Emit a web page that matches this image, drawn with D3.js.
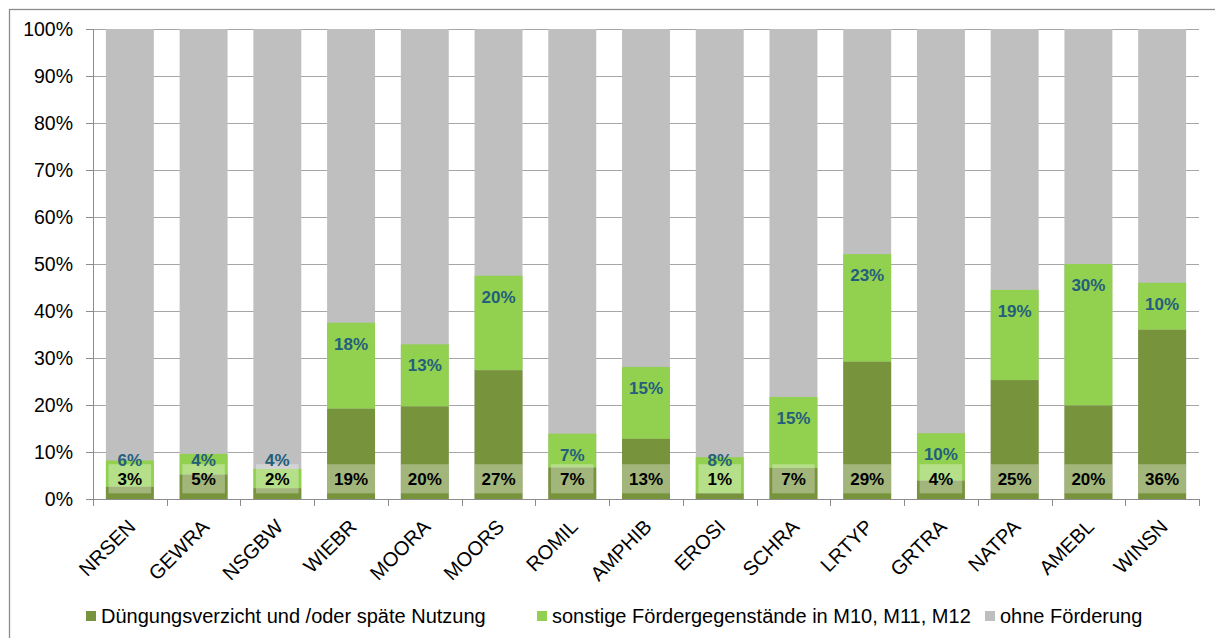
<!DOCTYPE html>
<meta charset="utf-8">
<style>
body { margin: 0; background: #fff; }
text { font-family: "Liberation Sans", Arial, sans-serif; }
</style>
<body>
<div id="chart"></div>
<script src="https://d3js.org/d3.v7.min.js"></script>
<script>
// categories and values (percent)
var categories = ["NRSEN", "GEWRA", "NSGBW", "WIEBR", "MOORA", "MOORS", "ROMIL", "AMPHIB",
                  "EROSI", "SCHRA", "LRTYP", "GRTRA", "NATPA", "AMEBL", "WINSN"];
var duengung = [2.6, 5.2, 2.3, 19.2, 19.7, 27.4, 6.7, 12.8, 1.2, 6.6, 29.2, 3.9, 25.3, 19.9, 36.0];
var sonstige = [5.6, 4.4, 4.1, 18.3, 13.2, 20.1, 7.2, 15.3, 7.7, 15.1, 22.9, 10.1, 19.2, 30.1, 10.0];
var yTicks = [0, 10, 20, 30, 40, 50, 60, 70, 80, 90, 100];
var seriesNames = ["Düngungsverzicht und /oder späte Nutzung",
                   "sonstige Fördergegenstände in M10, M11, M12",
                   "ohne Förderung"];
var colors = ["#77933c", "#92d050", "#bfbfbf"];

var W = 1215, H = 638;
var margin = {top: 29, right: 16, bottom: 139, left: 93};
var width = W - margin.left - margin.right,
    height = H - margin.top - margin.bottom;

var svg = d3.select("#chart").append("svg")
    .attr("width", W).attr("height", H);

// outer frame
svg.append("rect")
    .attr("x", 9.5).attr("y", 9.5)
    .attr("width", W + 20).attr("height", H + 20)
    .attr("fill", "none").attr("stroke", "#8c8c8c").attr("stroke-width", 1.3);

var g = svg.append("g")
    .attr("transform", "translate(" + margin.left + "," + margin.top + ")");

var x = d3.scaleBand().domain(categories).range([0, width]).paddingInner(0.35).paddingOuter(0.175);
var y = d3.scaleLinear().domain([0, 100]).range([height, 0]);

// gridlines
g.selectAll(".grid").data(yTicks).enter().append("line")
    .attr("x1", 0).attr("x2", width)
    .attr("y1", function(d) { return Math.round(y(d)) + 0.5; })
    .attr("y2", function(d) { return Math.round(y(d)) + 0.5; })
    .attr("stroke", "#a6a6a6").attr("stroke-width", 1);

var data = categories.map(function(c, i) {
    return {cat: c, d: duengung[i], s: sonstige[i]};
});

var bars = g.selectAll(".bar").data(data).enter().append("g");

bars.append("rect")
    .attr("x", function(d) { return x(d.cat); })
    .attr("width", x.bandwidth())
    .attr("y", y(100))
    .attr("height", y(0) - y(100))
    .attr("fill", colors[2]);
bars.append("rect")
    .attr("x", function(d) { return x(d.cat); })
    .attr("width", x.bandwidth())
    .attr("y", function(d) { return y(d.d + d.s); })
    .attr("height", function(d) { return y(0) - y(d.s); })
    .attr("fill", colors[1]);
bars.append("rect")
    .attr("x", function(d) { return x(d.cat); })
    .attr("width", x.bandwidth())
    .attr("y", function(d) { return y(d.d); })
    .attr("height", function(d) { return y(0) - y(d.d); })
    .attr("fill", colors[0]);

// axes
var yAxis = g.append("g").call(d3.axisLeft(y).tickValues(yTicks).tickSize(7).tickPadding(13)
    .tickFormat(function(d) { return d + "%"; }));
yAxis.select(".domain").remove();
yAxis.selectAll("line").attr("stroke", "#8c8c8c");
yAxis.selectAll("text").attr("font-size", 19.5).attr("fill", "#000")
    .style("font-family", "Liberation Sans, Arial, sans-serif");
g.append("line").attr("x1", 0.5).attr("x2", 0.5).attr("y1", 0).attr("y2", height)
    .attr("stroke", "#8c8c8c");

g.append("line").attr("x1", 0).attr("x2", width)
    .attr("y1", height + 0.5).attr("y2", height + 0.5).attr("stroke", "#8c8c8c");
var step = x.step();
g.selectAll(".xtick").data(d3.range(categories.length + 1)).enter().append("line")
    .attr("x1", function(i) { return Math.round(i * step) + 0.5; })
    .attr("x2", function(i) { return Math.round(i * step) + 0.5; })
    .attr("y1", height).attr("y2", height + 7)
    .attr("stroke", "#8c8c8c");

g.selectAll(".xlabel").data(categories).enter().append("text")
    .attr("transform", function(d) {
        return "translate(" + (x(d) + x.bandwidth() / 2 + 2) + "," + (height + 24) + ") rotate(-45)";
    })
    .attr("text-anchor", "end")
    .attr("dy", "0.35em")
    .attr("font-size", 20)
    .text(function(d) { return d; });

// label boxes and labels for the dark series
var boxTop = y(7.4), boxBottom = y(1.2);
bars.each(function(d) {
    var b = d3.select(this);
    var cx = x(d.cat) + x.bandwidth() / 2;
    var box = b.append("rect").attr("fill", "#fff").attr("fill-opacity", 0.32);
    var t = b.append("text")
        .attr("x", cx).attr("y", (boxTop + boxBottom) / 2)
        .attr("dy", "0.36em")
        .attr("text-anchor", "middle")
        .attr("font-size", 17).attr("font-weight", "bold").attr("fill", "#000")
        .text(Math.round(d.d) + "%");
    var bw = Math.min(x.bandwidth(), t.node().getComputedTextLength() + 18);
    box.attr("x", cx - bw / 2).attr("width", bw)
       .attr("y", boxTop).attr("height", boxBottom - boxTop);
    t.raise();

    var ly = Math.min(y(d.d + d.s) + 21, y(8.3));
    b.append("text")
        .attr("x", cx).attr("y", ly)
        .attr("dy", "0.36em")
        .attr("text-anchor", "middle")
        .attr("font-size", 17).attr("font-weight", "bold").attr("fill", "#245e7c")
        .text(Math.round(d.s) + "%");
});

// legend
var legendX = [86, 537, 985];
var leg = svg.selectAll(".legend").data(seriesNames).enter().append("g")
    .attr("transform", function(d, i) { return "translate(" + legendX[i] + ",611)"; });
leg.append("rect").attr("width", 10).attr("height", 10)
    .attr("fill", function(d, i) { return colors[i]; });
leg.append("text").attr("x", 15).attr("y", 5).attr("dy", "0.36em")
    .attr("font-size", 20).attr("fill", "#000")
    .text(function(d) { return d; });
</script>
</body>
